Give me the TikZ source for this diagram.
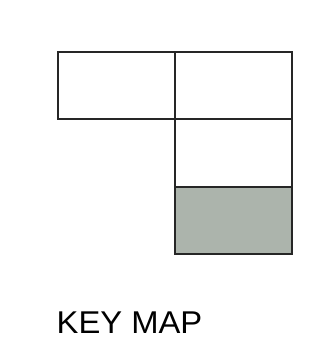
\documentclass[tikz,border=0pt]{standalone}
\usepackage{fontspec}
\setmainfont{Liberation Sans}
\definecolor{keygray}{RGB}{172,180,172}
\begin{document}
\begin{tikzpicture}[x=1pt,y=1pt,
  cell/.style={draw=black!85,line width=1.8pt},
  label/.style={font=\fontsize{31.5}{34}\selectfont,inner sep=0pt,text depth=0pt,anchor=base west,xscale=1.04}]
\useasboundingbox (0,0) rectangle (327,338);
\fill[white] (0,0) rectangle (327,338);
\coordinate (a) at (58.3,286.3);
\coordinate (b) at (175,218.7);
\coordinate (c) at (175,286.3);
\coordinate (d) at (291.7,218.7);
\coordinate (e) at (291.7,151.3);
\coordinate (f) at (175,151.3);
\coordinate (g) at (291.7,84);
\fill[keygray] (f) rectangle (g);
\draw[cell] (a) rectangle (b);
\draw[cell] (c) rectangle (d);
\draw[cell] (b) rectangle (e);
\draw[cell] (f) rectangle (g);
\node[label] (k) at (56.5,4.5) {KEY MAP};
\end{tikzpicture}
\end{document}
